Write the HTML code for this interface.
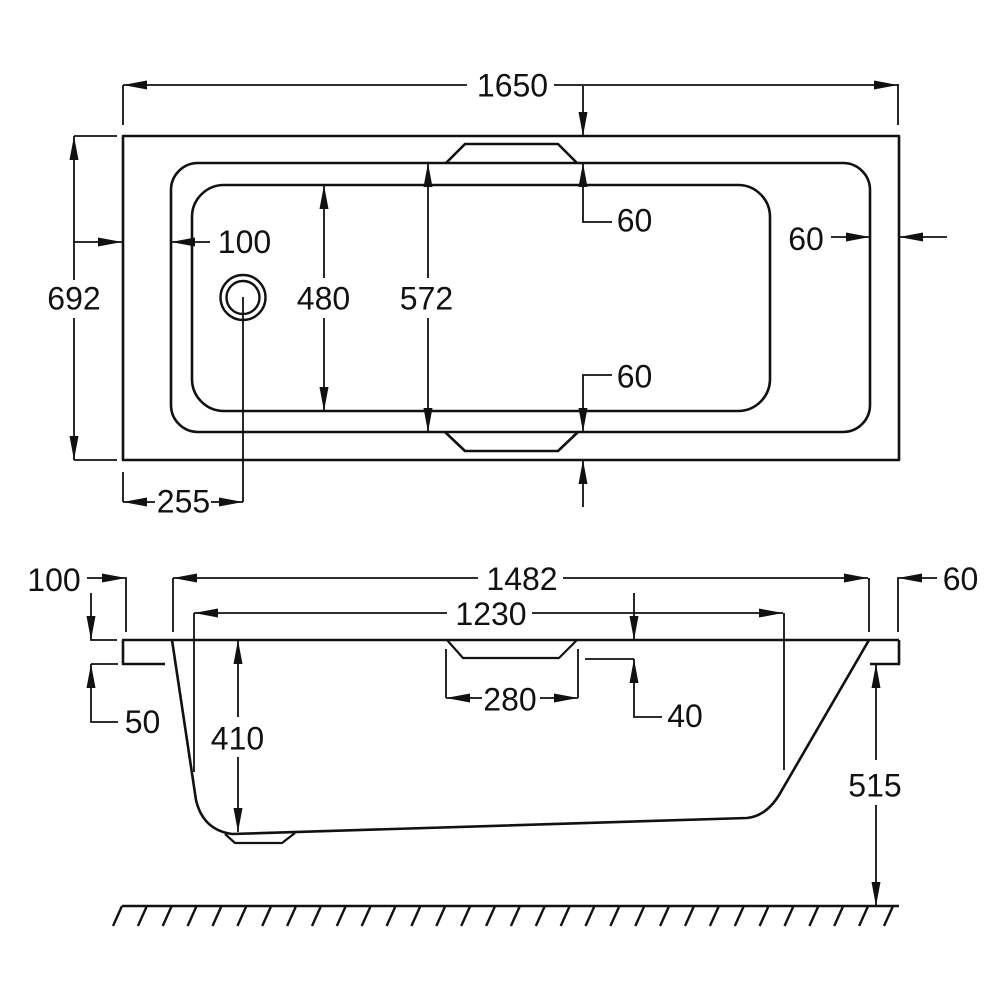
<!DOCTYPE html>
<html>
<head>
<meta charset="utf-8">
<style>
html,body{margin:0;padding:0;background:#fff;}
svg{display:block;}
text{font-family:"Liberation Sans",Arial,sans-serif;font-size:32px;fill:#111;text-anchor:middle;}
</style>
</head>
<body>
<svg width="1005" height="1005" viewBox="0 0 1005 1005" xmlns="http://www.w3.org/2000/svg">
<rect width="1005" height="1005" fill="#fff"/>

<!-- ================= TOP VIEW ================= -->
<g fill="none" stroke="#111" stroke-width="2.6" stroke-linejoin="round">
  <rect x="123" y="136" width="776" height="324"/>
  <rect x="171" y="163" width="699" height="269" rx="27" ry="27"/>
  <rect x="192" y="185" width="578" height="226" rx="32" ry="32"/>
  <polyline points="446,163 465,144 558,144 577,163"/>
  <polyline points="445,432 465,451 558,451 578,432"/>
  <circle cx="243" cy="297.5" r="22.5" stroke-width="2.4"/>
  <circle cx="243" cy="297.5" r="16.5" stroke-width="2.4"/>
</g>

<g fill="none" stroke="#111" stroke-width="1.8">
  <line x1="123" y1="85" x2="467" y2="85"/>
  <line x1="554" y1="85" x2="898" y2="85"/>
  <line x1="123" y1="85" x2="123" y2="125"/>
  <line x1="898" y1="84" x2="898" y2="125"/>
  <line x1="583" y1="86" x2="583" y2="136"/>
  <polyline points="583,163 583,222 612,222"/>
  <polyline points="612,375 583,375 583,432"/>
  <line x1="583" y1="460" x2="583" y2="507"/>
  <line x1="74" y1="136" x2="74" y2="280"/>
  <line x1="74" y1="318" x2="74" y2="460"/>
  <line x1="74" y1="136" x2="117" y2="136"/>
  <line x1="74" y1="460" x2="117" y2="460"/>
  <line x1="74" y1="242" x2="122" y2="242"/>
  <line x1="171" y1="242" x2="210" y2="242"/>
  <line x1="243" y1="297" x2="243" y2="502"/>
  <line x1="123" y1="472" x2="123" y2="502"/>
  <line x1="123" y1="502" x2="155" y2="502"/>
  <line x1="211" y1="502" x2="243" y2="502"/>
  <line x1="324" y1="185" x2="324" y2="278"/>
  <line x1="324" y1="318" x2="324" y2="411"/>
  <line x1="428" y1="163" x2="428" y2="278"/>
  <line x1="428" y1="318" x2="428" y2="432"/>
  <line x1="831" y1="237" x2="870" y2="237"/>
  <line x1="899" y1="237" x2="947" y2="237"/>
</g>

<g fill="#111" stroke="none">
  <polygon points="123,85 147,80.5 147,89.5"/>
  <polygon points="898,85 874,80.5 874,89.5"/>
  <polygon points="583,136 578.5,112 587.5,112"/>
  <polygon points="583,163 578.5,187 587.5,187"/>
  <polygon points="583,432 578.5,408 587.5,408"/>
  <polygon points="583,460 578.5,484 587.5,484"/>
  <polygon points="74,136 69.5,160 78.5,160"/>
  <polygon points="74,460 69.5,436 78.5,436"/>
  <polygon points="122,242 98,237.5 98,246.5"/>
  <polygon points="171,242 195,237.5 195,246.5"/>
  <polygon points="123,502 147,497.5 147,506.5"/>
  <polygon points="243,502 219,497.5 219,506.5"/>
  <polygon points="324,185 319.5,209 328.5,209"/>
  <polygon points="324,411 319.5,387 328.5,387"/>
  <polygon points="428,163 423.5,187 432.5,187"/>
  <polygon points="428,432 423.5,408 432.5,408"/>
  <polygon points="870,237 846,232.5 846,241.5"/>
  <polygon points="899,237 923,232.5 923,241.5"/>
</g>

<text x="512.5" y="96.5">1650</text>
<text x="74" y="309.5">692</text>
<text x="244.5" y="253">100</text>
<text x="323.5" y="309.5">480</text>
<text x="426.5" y="309.5">572</text>
<text x="634.5" y="231.5">60</text>
<text x="634.5" y="387.5">60</text>
<text x="806" y="250">60</text>
<text x="183.5" y="512.5">255</text>

<!-- ================= SIDE VIEW ================= -->
<g fill="none" stroke="#111" stroke-width="2.6" stroke-linejoin="round">
  <line x1="122" y1="640" x2="899" y2="640"/>
  <polyline points="123,640 123,664 165,664"/>
  <polyline points="899,640 899,664 870,664"/>
  <path d="M172,640 L196,800 Q203,830 232,834 L747,818 Q768,816 782,790 L869,640"/>
  <polyline points="225,834 235,843 282,843 295,833" stroke-width="2.2"/>
  <polyline points="447,640 463,658 559,658 577,640" stroke-width="2.2"/>
  <line x1="122" y1="906" x2="899" y2="906" stroke-width="2.4"/>
</g>

<g fill="none" stroke="#111" stroke-width="1.8">
  <polyline points="87,578 126,578 126,632"/>
  <polyline points="91,593 91,640 117,640"/>
  <line x1="91" y1="664" x2="118" y2="664"/>
  <polyline points="91,664 91,722 118,722"/>
  <line x1="173" y1="578" x2="478" y2="578"/>
  <line x1="563" y1="578" x2="868" y2="578"/>
  <line x1="173" y1="578" x2="173" y2="632"/>
  <line x1="869" y1="578" x2="869" y2="632"/>
  <line x1="194" y1="613" x2="447" y2="613"/>
  <line x1="532" y1="613" x2="783" y2="613"/>
  <line x1="194" y1="613" x2="194" y2="772"/>
  <line x1="784" y1="613" x2="784" y2="770"/>
  <line x1="634" y1="593" x2="634" y2="640"/>
  <line x1="446" y1="649" x2="446" y2="698"/>
  <line x1="578" y1="649" x2="578" y2="698"/>
  <line x1="446" y1="698" x2="482" y2="698"/>
  <line x1="540" y1="698" x2="578" y2="698"/>
  <line x1="585" y1="659" x2="634" y2="659"/>
  <polyline points="634,659 634,717 662,717"/>
  <line x1="238" y1="640" x2="238" y2="717"/>
  <line x1="238" y1="757" x2="238" y2="832"/>
  <line x1="876" y1="664" x2="876" y2="760"/>
  <line x1="876" y1="805" x2="876" y2="906"/>
  <polyline points="937,578 898,578 898,632"/>
</g>

<g fill="#111" stroke="none">
  <polygon points="126,578 102,573.5 102,582.5"/>
  <polygon points="91,640 86.5,616 95.5,616"/>
  <polygon points="91,664 86.5,688 95.5,688"/>
  <polygon points="173,578 197,573.5 197,582.5"/>
  <polygon points="868,578 844,573.5 844,582.5"/>
  <polygon points="194,613 218,608.5 218,617.5"/>
  <polygon points="783,613 759,608.5 759,617.5"/>
  <polygon points="634,640 629.5,616 638.5,616"/>
  <polygon points="446,698 470,693.5 470,702.5"/>
  <polygon points="578,698 554,693.5 554,702.5"/>
  <polygon points="634,659 629.5,683 638.5,683"/>
  <polygon points="238,640 233.5,664 242.5,664"/>
  <polygon points="238,832 233.5,808 242.5,808"/>
  <polygon points="876,664 871.5,688 880.5,688"/>
  <polygon points="876,906 871.5,882 880.5,882"/>
  <polygon points="898,578 922,573.5 922,582.5"/>
</g>

<g stroke="#111" stroke-width="2.4">
  <line x1="122" y1="906" x2="113" y2="926"/>
  <line x1="146.9" y1="906" x2="137.9" y2="926"/>
  <line x1="171.7" y1="906" x2="162.7" y2="926"/>
  <line x1="196.6" y1="906" x2="187.6" y2="926"/>
  <line x1="221.5" y1="906" x2="212.5" y2="926"/>
  <line x1="246.4" y1="906" x2="237.4" y2="926"/>
  <line x1="271.2" y1="906" x2="262.2" y2="926"/>
  <line x1="296.1" y1="906" x2="287.1" y2="926"/>
  <line x1="321" y1="906" x2="312" y2="926"/>
  <line x1="345.8" y1="906" x2="336.8" y2="926"/>
  <line x1="370.7" y1="906" x2="361.7" y2="926"/>
  <line x1="395.6" y1="906" x2="386.6" y2="926"/>
  <line x1="420.4" y1="906" x2="411.4" y2="926"/>
  <line x1="445.3" y1="906" x2="436.3" y2="926"/>
  <line x1="470.2" y1="906" x2="461.2" y2="926"/>
  <line x1="495.1" y1="906" x2="486.1" y2="926"/>
  <line x1="519.9" y1="906" x2="510.9" y2="926"/>
  <line x1="544.8" y1="906" x2="535.8" y2="926"/>
  <line x1="569.7" y1="906" x2="560.7" y2="926"/>
  <line x1="594.5" y1="906" x2="585.5" y2="926"/>
  <line x1="619.4" y1="906" x2="610.4" y2="926"/>
  <line x1="644.3" y1="906" x2="635.3" y2="926"/>
  <line x1="669.1" y1="906" x2="660.1" y2="926"/>
  <line x1="694" y1="906" x2="685" y2="926"/>
  <line x1="718.9" y1="906" x2="709.9" y2="926"/>
  <line x1="743.8" y1="906" x2="734.8" y2="926"/>
  <line x1="768.6" y1="906" x2="759.6" y2="926"/>
  <line x1="793.5" y1="906" x2="784.5" y2="926"/>
  <line x1="818.4" y1="906" x2="809.4" y2="926"/>
  <line x1="843.2" y1="906" x2="834.2" y2="926"/>
  <line x1="868.1" y1="906" x2="859.1" y2="926"/>
  <line x1="893" y1="906" x2="884" y2="926"/>
</g>

<text x="54" y="591">100</text>
<text x="142.5" y="733">50</text>
<text x="522" y="590">1482</text>
<text x="491" y="625">1230</text>
<text x="510" y="710.5">280</text>
<text x="685" y="727">40</text>
<text x="237.5" y="749.5">410</text>
<text x="875" y="796.5">515</text>
<text x="960.5" y="590">60</text>
</svg>
</body>
</html>
